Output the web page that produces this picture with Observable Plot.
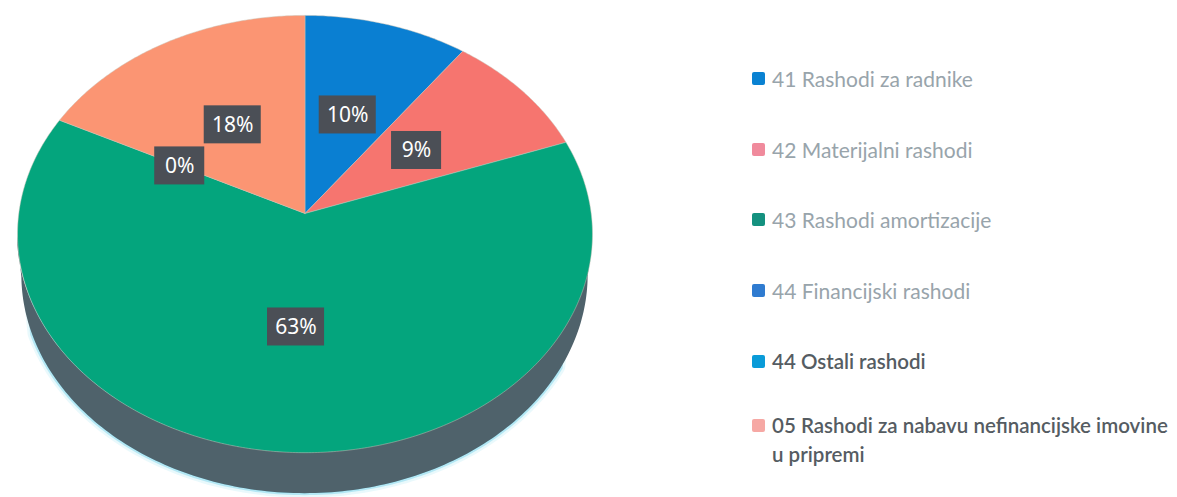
<!DOCTYPE html>
<html>
<head>
<meta charset="utf-8">
<script src="https://cdn.jsdelivr.net/npm/d3@7"></script>
<script src="https://cdn.jsdelivr.net/npm/@observablehq/plot@0.6"></script>
<style>
  html, body { margin: 0; background: #fff; }
  #wrap { display: flex; width: 1177px; height: 497px; overflow: hidden; }
  #legend { margin-left: 112px; padding-top: 59px; font-family: Lato, sans-serif; font-size: 21px; }
  .item { display: flex; height: 70.7px; width: 425px; align-items: flex-start; }
  .item:last-child { margin-top: -6px; }
  .sw { flex: none; width: 13px; height: 13px; margin: 13px 7px 0 0; border-radius: 2px; }
  .tx { line-height: 29px; padding-top: 5px; }
  .b { font-size: 20.5px; font-weight: 600; }
</style>
</head>
<body>
<div id="wrap"><div id="chart"></div><div id="legend"></div></div>
<script>
const categories = ["41 Rashodi za radnike", "42 Materijalni rashodi", "43 Rashodi amortizacije",
  "44 Financijski rashodi", "44 Ostali rashodi", "05 Rashodi za nabavu nefinancijske imovine u pripremi"];
const values = [10.1, 9.4, 62.9, 0, 0, 17.6];
const percentLabels = ["10%", "9%", "63%", "0%", "", "18%"];
const sliceColors = ["#0a7fd2", "#f6756f", "#04a57d", "#3f78c8", "#0a9bd8", "#fb9573"];
const legendColors = ["#0a82d2", "#f08a9c", "#14917f", "#2f7bd0", "#0a9bd8", "#f6a8a4"];
const legendTextColors = ["#98a4ab", "#98a4ab", "#98a4ab", "#98a4ab", "#555c62", "#555c62"];
const legendBold = [false, false, false, false, true, true];

// Tilted-disc view of a unit pie: the nearer rim is drawn larger.
const tilt = 0.094, depth = 0.189, wallNarrow = 0.985;
const project = (angle, r = 1) => {
  const u = r * Math.sin(angle), v = r * Math.cos(angle), w = 1 + tilt * v;
  return {x: u / w, y: v / w};
};
const total = d3.sum(values);
const cum = d3.cumsum(values);
const TAU = 2 * Math.PI;
const slices = categories.map((c, i) => {
  const a0 = (i ? cum[i - 1] : 0) / total * TAU, a1 = cum[i] / total * TAU;
  return {c, i, a0, a1, mid: (a0 + a1) / 2};
});
const outline = slices.flatMap(s => {
  if (s.a1 === s.a0) return [];
  const pts = [{...project(0, 0), i: s.i}];
  const n = Math.max(2, Math.ceil((s.a1 - s.a0) / 0.01));
  for (let k = 0; k <= n; ++k) pts.push({...project(s.a0 + (s.a1 - s.a0) * k / n), i: s.i});
  pts.push({...project(0, 0), i: s.i});
  return pts;
});
const rimAt = deg => {
  const p = project(deg / 180 * Math.PI);
  return {x1: p.x, x2: p.x * wallNarrow, y1: p.y, y2: p.y - depth};
};
const rim = d3.range(96, 264.5, 1).map(rimAt);
const halo = d3.range(120, 250, 1).map(rimAt);
const labels = slices.filter(s => percentLabels[s.i]).map(s => {
  const t = percentLabels[s.i], p = project(s.mid, 0.5), hw = (t.length > 2 ? 28.5 : 25) / 286, hh = 19 / 216.7;
  return {t, x: p.x, y: p.y, x1: p.x - hw, x2: p.x + hw, y1: p.y - hh, y2: p.y + hh};
});

const wall = {x1: "x1", x2: "x2", y1: "y1", y2: "y2"};
const plot = Plot.plot({
  width: 640, height: 497, margin: 0,
  x: {domain: [-1, 1], range: [18.3, 590.7], axis: null},
  y: {domain: [-1, 1], range: [429.7, -3.7], axis: null},
  marks: [
    Plot.area(halo, {...wall, fill: "#a8e6f4", stroke: "#a8e6f4", strokeWidth: 9, strokeOpacity: 0.25, fillOpacity: 0.25}),
    Plot.area(halo, {...wall, fill: "#7fd8ee", stroke: "#7fd8ee", strokeWidth: 4, strokeOpacity: 0.5}),
    Plot.area(rim, {...wall, fill: "#4f626b"}),
    Plot.line(outline, {x: "x", y: "y", z: "i", fill: d => sliceColors[d.i], stroke: "#c9c4b8", strokeWidth: 0.8, strokeOpacity: 0.6, curve: "linear"}),
    Plot.rect(labels, {x1: "x1", x2: "x2", y1: "y1", y2: "y2", fill: "#4b4f56"}),
    Plot.text(labels, {x: "x", y: "y", text: "t", fill: "#fff", fontSize: 21, fontFamily: "'Noto Sans', sans-serif"})
  ]
});
document.getElementById("chart").append(plot);

const legend = document.getElementById("legend");
categories.forEach((c, i) => {
  const item = document.createElement("div");
  item.className = "item";
  const sw = document.createElement("span");
  sw.className = "sw";
  sw.style.background = legendColors[i];
  const tx = document.createElement("span");
  tx.className = legendBold[i] ? "tx b" : "tx";
  tx.textContent = c;
  tx.style.color = legendTextColors[i];
  item.append(sw, tx);
  legend.append(item);
});
</script>
</body>
</html>
